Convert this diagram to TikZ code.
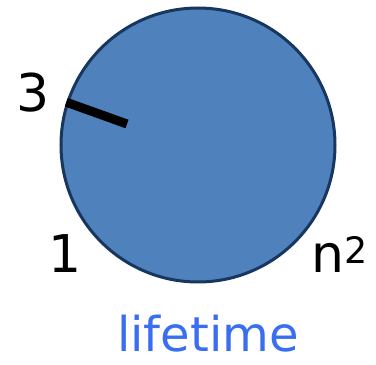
\documentclass[tikz,border=0pt]{standalone}
\usepackage{fontspec}
\setmainfont{DejaVu Sans}

\definecolor{discblue}{RGB}{79,129,189}
\definecolor{discedge}{RGB}{23,55,94}
\definecolor{labelblue}{RGB}{58,110,240}

\begin{document}
\begin{tikzpicture}[
        x=1pt, y=1pt,
        disc/.style={draw=discedge, fill=discblue, line width=3pt},
        hand/.style={line width=9pt, black},
        ticklabel/.style={anchor=base, inner sep=1pt, font=\fontsize{52}{56}\selectfont},
        caption/.style={anchor=base, inner sep=1pt, text=labelblue, font=\fontsize{48}{52}\selectfont}
    ]
        \useasboundingbox (0,0) rectangle (376,365);

        % The disc
        \node (disc) [disc, circle, minimum size=274pt, inner sep=0pt] at (198,220) {};

        % The hand at position 3
        \coordinate (tip) at (127,241);
        \draw[hand] (disc.162) -- (tip);

        % Labels round the disc
        \node (three) [ticklabel] at (33,253) {3};
        \node (one) [ticklabel] at (65,92) {1};
        \node (nsq) [ticklabel] at (340,92) {n\textsuperscript{2}};

        % Caption
        \node (life) [caption] at (208,13) {lifetime};
    \end{tikzpicture}
\end{document}
